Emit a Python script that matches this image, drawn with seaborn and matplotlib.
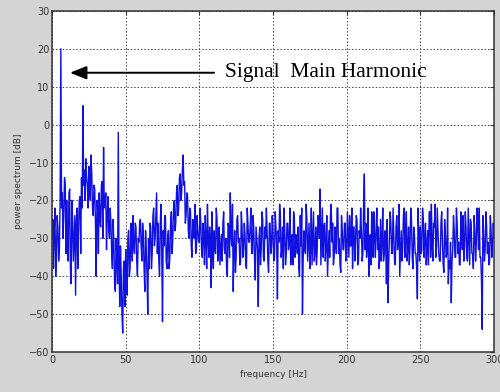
import numpy as np
import pandas as pd
import matplotlib
matplotlib.use("Agg")
import matplotlib.pyplot as plt
import seaborn as sns

# Power spectrum samples on whole-Hz bins, 0..300 Hz (dB)
power_0_99 = [
    -30, -38, -22, -35, -27, -33, 20, -18, -24, -16,
    -20, -36, -17, -42, -25, -30, -45, -22, -28, -19,
    -14, 5, -12, -9, -16, -11, -20, -13, -24, -17,
    -40, -22, -18, -27, -15, -6, -21, -33, -19, -30,
    -26, -38, -31, -44, -35, -2, -48, -40, -55, -36,
    -33, -45, -28, -38, -30, -24, -34, -27, -40, -31,
    -25, -36, -29, -44, -33, -50, -38, -27, -34, -22,
    -30, -18, -26, -40, -21, -52, -32, -24, -38, -28,
    -35, -23, -30, -20, -26, -16, -22, -13, -18, -8,
    -15, -24, -19, -30, -23, -35, -27, -21, -33, -28,
]
power_100_199 = [
    -31, -26, -35, -29, -24, -38, -30, -27, -43, -33,
    -28, -34, -25, -31, -37, -29, -26, -33, -30, -40,
    -27, -18, -32, -44, -28, -35, -24, -30, -36, -27,
    -33, -29, -38, -26, -31, -22, -34, -28, -41, -30,
    -48, -27, -33, -25, -36, -30, -28, -39, -26, -32,
    -29, -35, -27, -46, -31, -24, -33, -38, -28, -34,
    -26, -31, -37, -29, -23, -35, -30, -27, -40, -32,
    -50, -28, -34, -25, -31, -38, -22, -30, -36, -27,
    -33, -25, -17, -29, -35, -26, -32, -40, -28, -24,
    -31, -37, -27, -34, -22, -30, -39, -28, -33, -26,
]
power_200_300 = [
    -35, -29, -24, -32, -38, -27, -31, -25, -36, -30,
    -28, -34, -13, -26, -32, -40, -29, -23, -35, -30,
    -27, -33, -38, -25, -31, -36, -28, -42, -47, -30,
    -26, -34, -29, -37, -24, -31, -40, -28, -33, -22,
    -30, -36, -27, -32, -25, -38, -29, -34, -46, -31,
    -27, -33, -25, -30, -37, -28, -23, -35, -31, -26,
    -21, -32, -28, -36, -26, -31, -39, -29, -34, -42,
    -38, -47, -33, -28, -35, -26, -31, -37, -29, -24,
    -32, -27, -36, -30, -25, -34, -38, -28, -31, -26,
    -22, -35, -54, -29, -33, -27, -31, -36, -28, -32,
    -30,
]

# Power spectrum samples on the half-Hz bins, 0.5..299.5 Hz (dB)
half_0_99 = [
    -25, -28, -40, -24, -36, -20, -22, -30, -14, -34,
    -32, -18, -38, -20, -36, -24, -26, -38, -20, -34,
    -22, -16, -20, -14, -22, -17, -8, -22, -16, -26,
    -20, -34, -25, -16, -30, -22, -18, -24, -28, -22,
    -34, -25, -42, -30, -42, -38, -32, -50, -38, -48,
    -42, -30, -40, -26, -36, -32, -26, -36, -30, -26,
    -32, -26, -38, -28, -40, -30, -26, -38, -24, -32,
    -24, -34, -36, -26, -34, -28, -24, -36, -30, -38,
    -26, -34, -22, -28, -18, -24, -14, -20, -12, -16,
    -26, -18, -28, -22, -32, -25, -30, -34, -24, -31,
]
half_100_199 = [
    -22, -33, -26, -37, -30, -21, -35, -31, -23, -38,
    -32, -22, -36, -27, -33, -36, -23, -34, -38, -26,
    -35, -29, -21, -33, -39, -25, -31, -37, -23, -35,
    -26, -37, -22, -31, -27, -34, -24, -36, -27, -33,
    -30, -37, -23, -35, -27, -22, -36, -26, -34, -24,
    -36, -23, -32, -28, -21, -35, -27, -22, -37, -26,
    -33, -22, -35, -37, -25, -29, -34, -38, -24, -22,
    -35, -32, -21, -36, -26, -33, -37, -23, -34, -37,
    -24, -30, -37, -22, -27, -36, -24, -34, -35, -21,
    -26, -35, -31, -22, -34, -37, -24, -33, -26, -36,
]
half_200_299 = [
    -23, -35, -32, -22, -27, -36, -24, -37, -28, -22,
    -36, -21, -33, -35, -22, -34, -37, -25, -23, -35,
    -22, -27, -35, -36, -22, -34, -32, -25, -37, -23,
    -34, -22, -36, -27, -33, -21, -34, -36, -24, -35,
    -23, -33, -37, -22, -35, -27, -34, -38, -22, -36,
    -34, -22, -35, -26, -32, -37, -23, -21, -36, -27,
    -35, -22, -34, -36, -23, -37, -25, -35, -22, -36,
    -31, -36, -24, -35, -22, -34, -37, -23, -33, -36,
    -23, -35, -22, -37, -26, -34, -24, -36, -22, -33,
    -35, -41, -24, -36, -23, -34, -37, -24, -35, -26,
]

whole_db = power_0_99 + power_100_199 + power_200_300
half_db = half_0_99 + half_100_199 + half_200_299

x_ticks = [0, 50, 100, 150, 200, 250, 300]
y_ticks = [-60, -50, -40, -30, -20, -10, 0, 10, 20, 30]

annotation_text = "Signal  Main Harmonic"
harmonic_freq = 12.2
harmonic_level = 13.7

# Merge both sample sets into one spectrum ordered by frequency
whole_freq = np.arange(len(whole_db), dtype=float)
half_freq = np.arange(len(half_db), dtype=float) + 0.5
spectrum = pd.DataFrame({
    "frequency": np.concatenate([whole_freq, half_freq]),
    "power": np.concatenate([whole_db, half_db]),
}).sort_values("frequency").reset_index(drop=True)

sns.set_style("white")
plt.rcParams["font.family"] = ["DejaVu Sans"]

fig = plt.figure(figsize=(5.0, 3.92), dpi=100, facecolor="#d4d4d4")
ax = fig.add_axes([0.104, 0.102, 0.884, 0.870])
ax.set_facecolor("white")

sns.lineplot(data=spectrum, x="frequency", y="power", ax=ax, sort=False,
             color="#1010e0", linewidth=1.0, estimator=None)

ax.set_xlim(0, 300)
ax.set_ylim(-60, 30)
ax.set_xticks(x_ticks)
ax.set_yticks(y_ticks)
ax.tick_params(axis="both", direction="in", length=3, width=0.8,
               labelsize=7, colors="#333333", top=True, right=True,
               pad=2)
ax.grid(True, linestyle=(0, (1.5, 2)), color="#444444", linewidth=0.7)
for side in ax.spines.values():
    side.set_color("#333333")
    side.set_linewidth(1.1)

ax.set_xlabel("frequency [Hz]", fontsize=6.5, color="#333333", labelpad=4)
ax.set_ylabel("power spectrum [dB]", fontsize=6.5, color="#333333", labelpad=4)

ax.annotate("", xy=(harmonic_freq, harmonic_level), xytext=(110, harmonic_level),
            arrowprops=dict(arrowstyle="-|>,head_length=1.0,head_width=0.4",
                            color="black", lw=1.4, shrinkA=0, shrinkB=0))
ax.text(117.4, 12.6, annotation_text, family="Liberation Serif",
        fontsize=15.5, color="black", va="baseline", ha="left")

fig.savefig("out.png", dpi=100, facecolor=fig.get_facecolor())
